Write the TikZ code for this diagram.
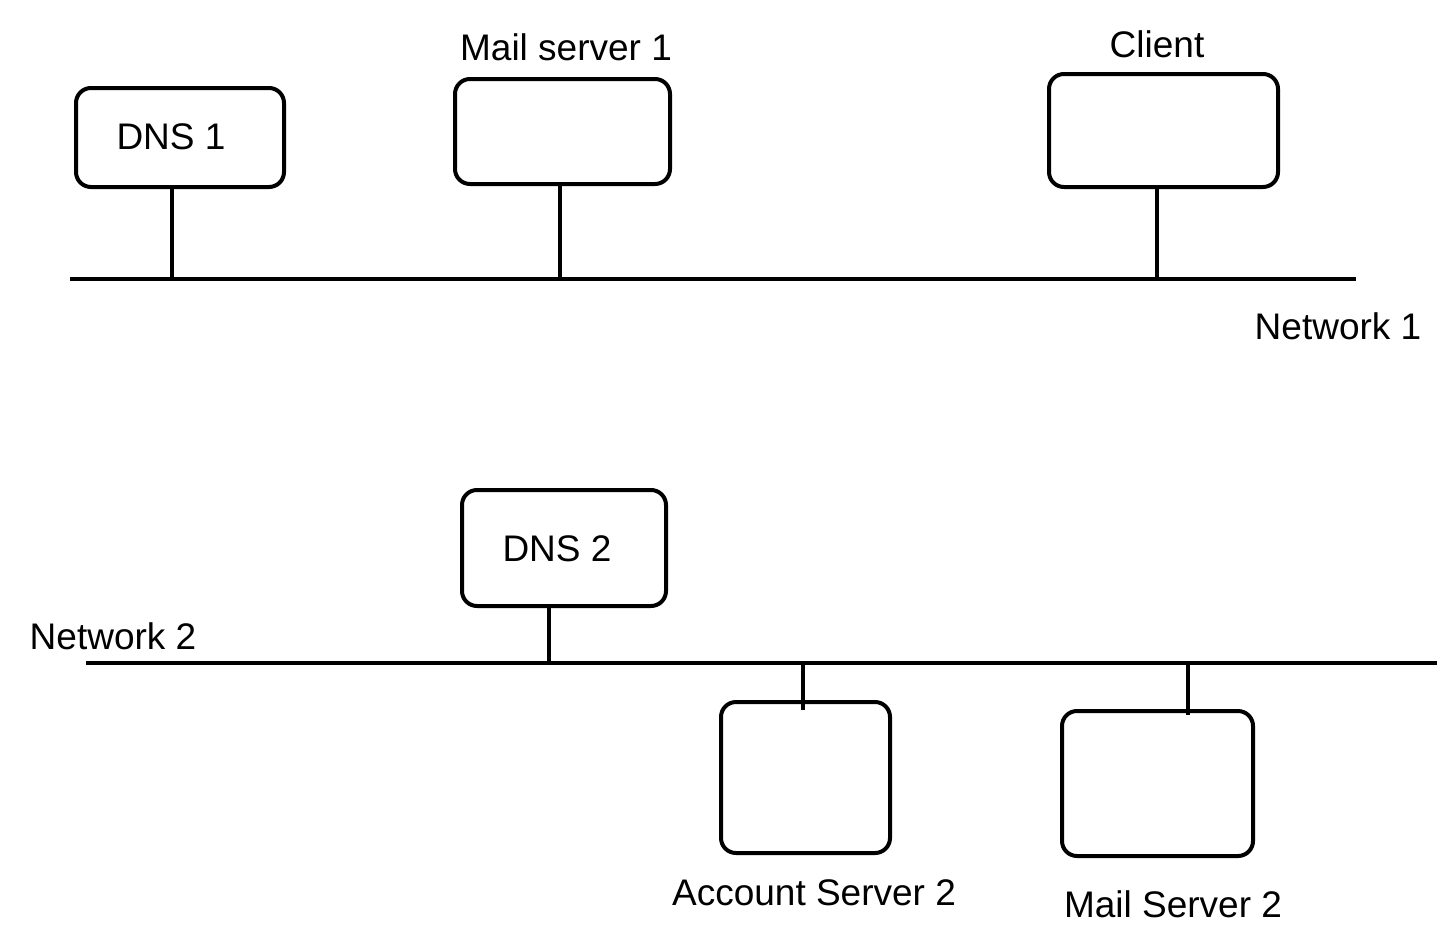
\documentclass[tikz,border=0pt]{standalone}
\usepackage{fontspec}
\setmainfont{Liberation Sans}
\begin{document}
\begin{tikzpicture}[x=1pt,y=-1pt,
  dev/.style={draw,line width=4pt,rounded corners=15pt},
  wire/.style={line width=4pt},
  lbl/.style={font=\fontsize{37}{42}\selectfont,inner sep=0pt}]
\useasboundingbox (0,0) rectangle (1455,929);
% Network 1
\coordinate (n1a) at (70,279);
\coordinate (n1b) at (1356,279);
\draw[wire] (n1a) -- (n1b);
\node[lbl] (n1l) at (1338,326) {Network 1};
\draw[dev] (76,88) rectangle (284,187);
\node[lbl] (dns1) at (171,137) {DNS 1};
\draw[dev] (455,79) rectangle (670,184);
\node[lbl] (ms1l) at (566,47) {Mail server 1};
\draw[dev] (1049,74) rectangle (1278,187);
\node[lbl] (cl) at (1157,44) {Client};
\coordinate (d1t) at (172,187); \coordinate (d1b) at (172,279);
\coordinate (m1t) at (560,184); \coordinate (m1b) at (560,279);
\coordinate (c1t) at (1157,187); \coordinate (c1b) at (1157,279);
\draw[wire] (d1t) -- (d1b);
\draw[wire] (m1t) -- (m1b);
\draw[wire] (c1t) -- (c1b);
% Network 2
\coordinate (n2a) at (86,663);
\coordinate (n2b) at (1437,663);
\draw[wire] (n2a) -- (n2b);
\node[lbl] (n2l) at (113,636) {Network 2};
\draw[dev] (462,490) rectangle (666,606);
\node[lbl] (dns2) at (557,549) {DNS 2};
\draw[dev] (721,702) rectangle (890,853);
\node[lbl] (as2) at (814,893) {Account Server 2};
\draw[dev] (1062,711) rectangle (1253,856);
\node[lbl] (ms2) at (1173,904) {Mail Server 2};
\coordinate (d2t) at (549,606); \coordinate (d2b) at (549,663);
\coordinate (a2t) at (803,663); \coordinate (a2b) at (803,710);
\coordinate (m2t) at (1188,663); \coordinate (m2b) at (1188,715);
\draw[wire] (d2t) -- (d2b);
\draw[wire] (a2t) -- (a2b);
\draw[wire] (m2t) -- (m2b);
\end{tikzpicture}
\end{document}
